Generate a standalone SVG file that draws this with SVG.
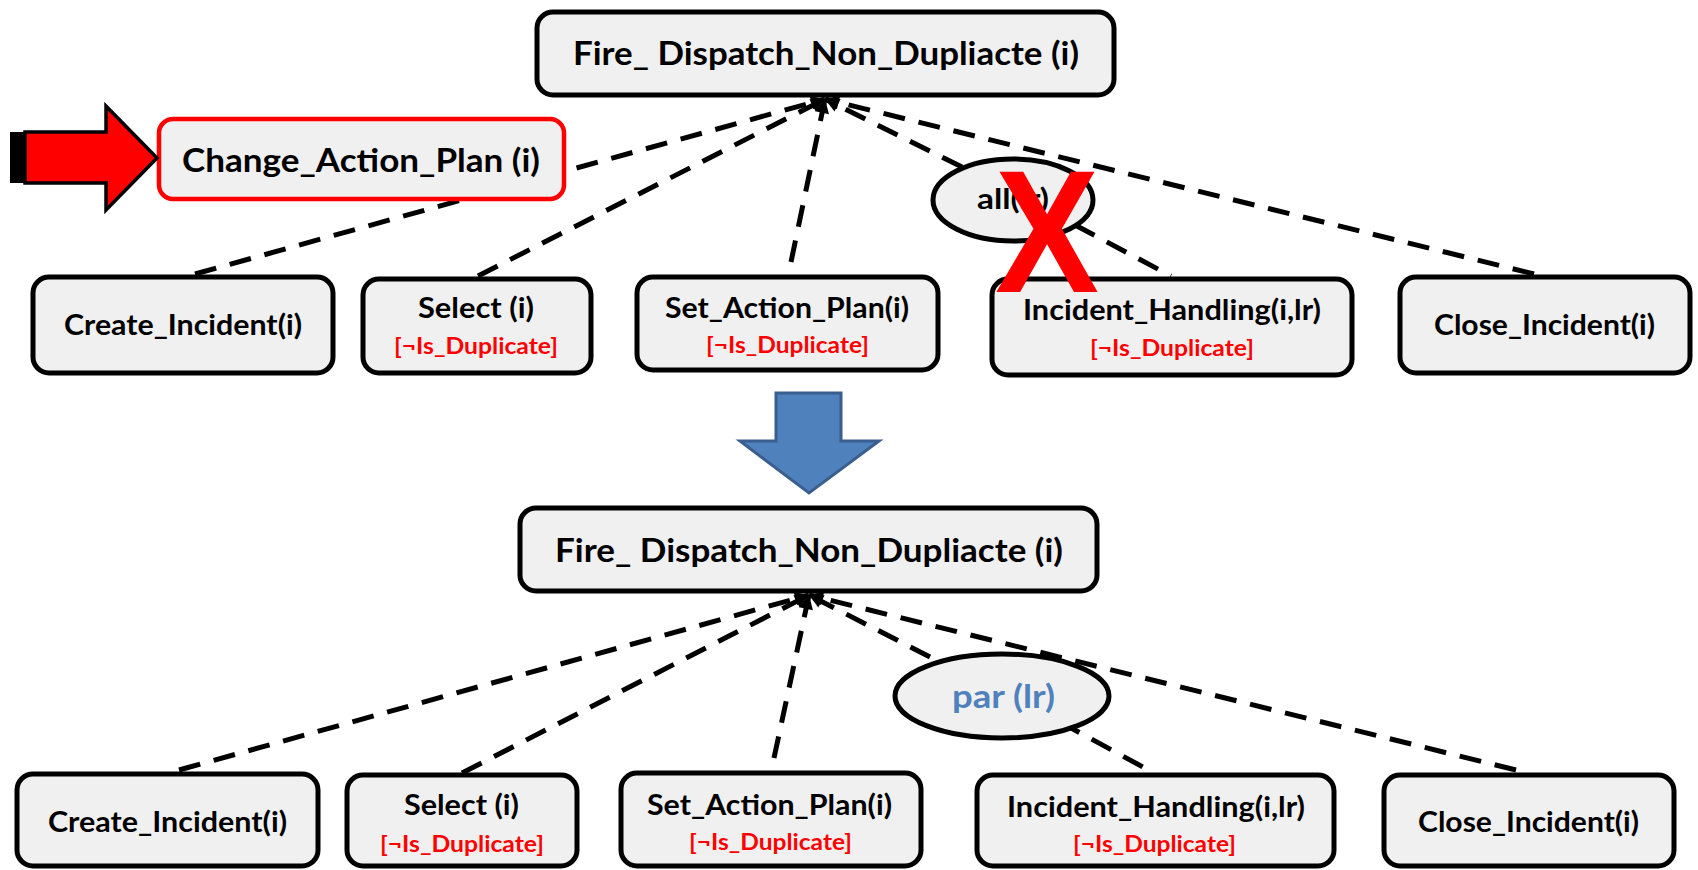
<svg xmlns="http://www.w3.org/2000/svg" width="1698" height="870" viewBox="0 0 1698 870">
  <style>
    .box { fill: #F0F0F0; stroke: #000; stroke-width: 5; }
    .hot { fill: #F0F0F0; stroke: #FF0000; stroke-width: 4.5; }
    .op { fill: #F0F0F0; stroke: #000; stroke-width: 5; }
    .edge { fill: none; stroke: #000; stroke-width: 5; stroke-dasharray: 22 14; }
    .head { marker-end: url(#tip); }
    text { font-family: Lato, "Liberation Sans", sans-serif; font-weight: bold; text-anchor: middle; }
    .root { font-size: 33px; fill: #000; }
    .lbl { font-size: 28px; fill: #000; }
    .guard { font-size: 23px; fill: #FF0000; }
    .opl { font-size: 28px; fill: #000; }
    .par { font-size: 33px; fill: #4F81BD; }
  </style>
  <defs>
    <marker id="tip" viewBox="0 0 10 10" refX="10" refY="5" markerWidth="18" markerHeight="14" markerUnits="userSpaceOnUse" orient="auto">
      <path d="M0,0 L10,5 L0,10 z" fill="#000"/>
    </marker>
  </defs>

  <rect width="1698" height="870" fill="#FFFFFF"/>

  <!-- connectors -->
  <g id="connectors">
    <line class="edge head" x1="195" y1="274" x2="825" y2="99"/>
    <line class="edge head" x1="478" y1="276" x2="825" y2="99"/>
    <line class="edge head" x1="791" y1="262" x2="825" y2="99"/>
    <line class="edge head" x1="962" y1="167" x2="825" y2="99"/>
    <line class="edge head" x1="1534" y1="274" x2="825" y2="99"/>
    <line class="edge" x1="1075" y1="225" x2="1171" y2="276"/>

    <line class="edge head" x1="179" y1="770" x2="809" y2="595"/>
    <line class="edge head" x1="462" y1="773" x2="809" y2="595"/>
    <line class="edge head" x1="774" y1="758" x2="809" y2="595"/>
    <line class="edge head" x1="930" y1="657" x2="809" y2="595"/>
    <line class="edge head" x1="1516" y1="770" x2="809" y2="595"/>
    <line class="edge" x1="1060" y1="722" x2="1154" y2="773"/>
  </g>

  <!-- upper tree -->
  <g id="root-top">
    <rect class="box" x="537" y="12" width="577" height="83" rx="16"/>
    <text class="root" x="826" y="65" textLength="506" lengthAdjust="spacingAndGlyphs">Fire_ Dispatch_Non_Dupliacte (i)</text>
  </g>
  <g id="change-action-plan">
    <rect class="hot" x="159" y="119" width="405" height="80" rx="14"/>
    <text class="root" x="361" y="172" textLength="358" lengthAdjust="spacingAndGlyphs" style="font-size:32px">Change_Action_Plan (i)</text>
  </g>
  <g id="pointer-arrow">
    <rect x="10" y="132" width="15" height="51" fill="#000"/>
    <polygon points="25,132 106,132 106,106 157,158 106,210 106,183 25,183" fill="#FF0000" stroke="#000" stroke-width="3.5" stroke-linejoin="miter"/>
  </g>
  <g id="create-top">
    <rect class="box" x="33" y="277" width="300" height="96" rx="16"/>
    <text class="lbl" x="183" y="335" textLength="238" lengthAdjust="spacingAndGlyphs">Create_Incident(i)</text>
  </g>
  <g id="select-top">
    <rect class="box" x="363" y="279" width="228" height="94" rx="16"/>
    <text class="lbl" x="476" y="318" textLength="116" lengthAdjust="spacingAndGlyphs">Select (i)</text>
    <text class="guard" x="476" y="354" textLength="164" lengthAdjust="spacingAndGlyphs">[¬Is_Duplicate]</text>
  </g>
  <g id="set-top">
    <rect class="box" x="637" y="277" width="301" height="93" rx="16"/>
    <text class="lbl" x="787" y="318" textLength="244" lengthAdjust="spacingAndGlyphs">Set_Action_Plan(i)</text>
    <text class="guard" x="787.5" y="353" textLength="163" lengthAdjust="spacingAndGlyphs">[¬Is_Duplicate]</text>
  </g>
  <g id="handling-top">
    <rect class="box" x="992" y="279" width="360" height="96" rx="16"/>
    <text class="lbl" x="1172" y="320" textLength="298" lengthAdjust="spacingAndGlyphs">Incident_Handling(i,lr)</text>
    <text class="guard" x="1172" y="356" textLength="164" lengthAdjust="spacingAndGlyphs">[¬Is_Duplicate]</text>
  </g>
  <g id="close-top">
    <rect class="box" x="1400" y="277" width="290" height="96" rx="16"/>
    <text class="lbl" x="1544.5" y="335" textLength="221" lengthAdjust="spacingAndGlyphs">Close_Incident(i)</text>
  </g>
  <g id="all-op">
    <ellipse class="op" cx="1013" cy="200" rx="80" ry="41"/>
    <text class="opl" x="1013" y="209" textLength="72" lengthAdjust="spacingAndGlyphs">all(lr)</text>
  </g>
  <g id="strike">
    <text x="1047" y="292" style="font-family:'Liberation Sans',sans-serif;font-size:175px;fill:#FF0000" textLength="104" lengthAdjust="spacingAndGlyphs">X</text>
  </g>

  <!-- transformation arrow -->
  <g id="down-arrow">
    <polygon points="776,393 841,393 841,441 879,441 809,493 740,441 776,441" fill="#4F81BD" stroke="#3A5F8F" stroke-width="3"/>
  </g>

  <!-- lower tree -->
  <g id="root-bottom">
    <rect class="box" x="520" y="508" width="577" height="83" rx="16"/>
    <text class="root" x="809" y="562" textLength="508" lengthAdjust="spacingAndGlyphs">Fire_ Dispatch_Non_Dupliacte (i)</text>
  </g>
  <g id="create-bottom">
    <rect class="box" x="17" y="774" width="301" height="92" rx="16"/>
    <text class="lbl" x="167.5" y="832" textLength="239" lengthAdjust="spacingAndGlyphs">Create_Incident(i)</text>
  </g>
  <g id="select-bottom">
    <rect class="box" x="347" y="775" width="230" height="91" rx="16"/>
    <text class="lbl" x="461.5" y="815" textLength="115" lengthAdjust="spacingAndGlyphs">Select (i)</text>
    <text class="guard" x="462" y="852" textLength="164" lengthAdjust="spacingAndGlyphs">[¬Is_Duplicate]</text>
  </g>
  <g id="set-bottom">
    <rect class="box" x="621" y="773" width="300" height="93" rx="16"/>
    <text class="lbl" x="769.5" y="815" textLength="245" lengthAdjust="spacingAndGlyphs">Set_Action_Plan(i)</text>
    <text class="guard" x="770.5" y="850" textLength="163" lengthAdjust="spacingAndGlyphs">[¬Is_Duplicate]</text>
  </g>
  <g id="handling-bottom">
    <rect class="box" x="977" y="775" width="357" height="91" rx="16"/>
    <text class="lbl" x="1156" y="817" textLength="298" lengthAdjust="spacingAndGlyphs">Incident_Handling(i,lr)</text>
    <text class="guard" x="1154.5" y="852" textLength="163" lengthAdjust="spacingAndGlyphs">[¬Is_Duplicate]</text>
  </g>
  <g id="close-bottom">
    <rect class="box" x="1384" y="775" width="290" height="91" rx="16"/>
    <text class="lbl" x="1528.5" y="832" textLength="221" lengthAdjust="spacingAndGlyphs">Close_Incident(i)</text>
  </g>
  <g id="par-op">
    <ellipse class="op" cx="1002" cy="696" rx="107" ry="42"/>
    <text class="par" x="1003.5" y="708" textLength="103" lengthAdjust="spacingAndGlyphs">par (lr)</text>
  </g>
</svg>
